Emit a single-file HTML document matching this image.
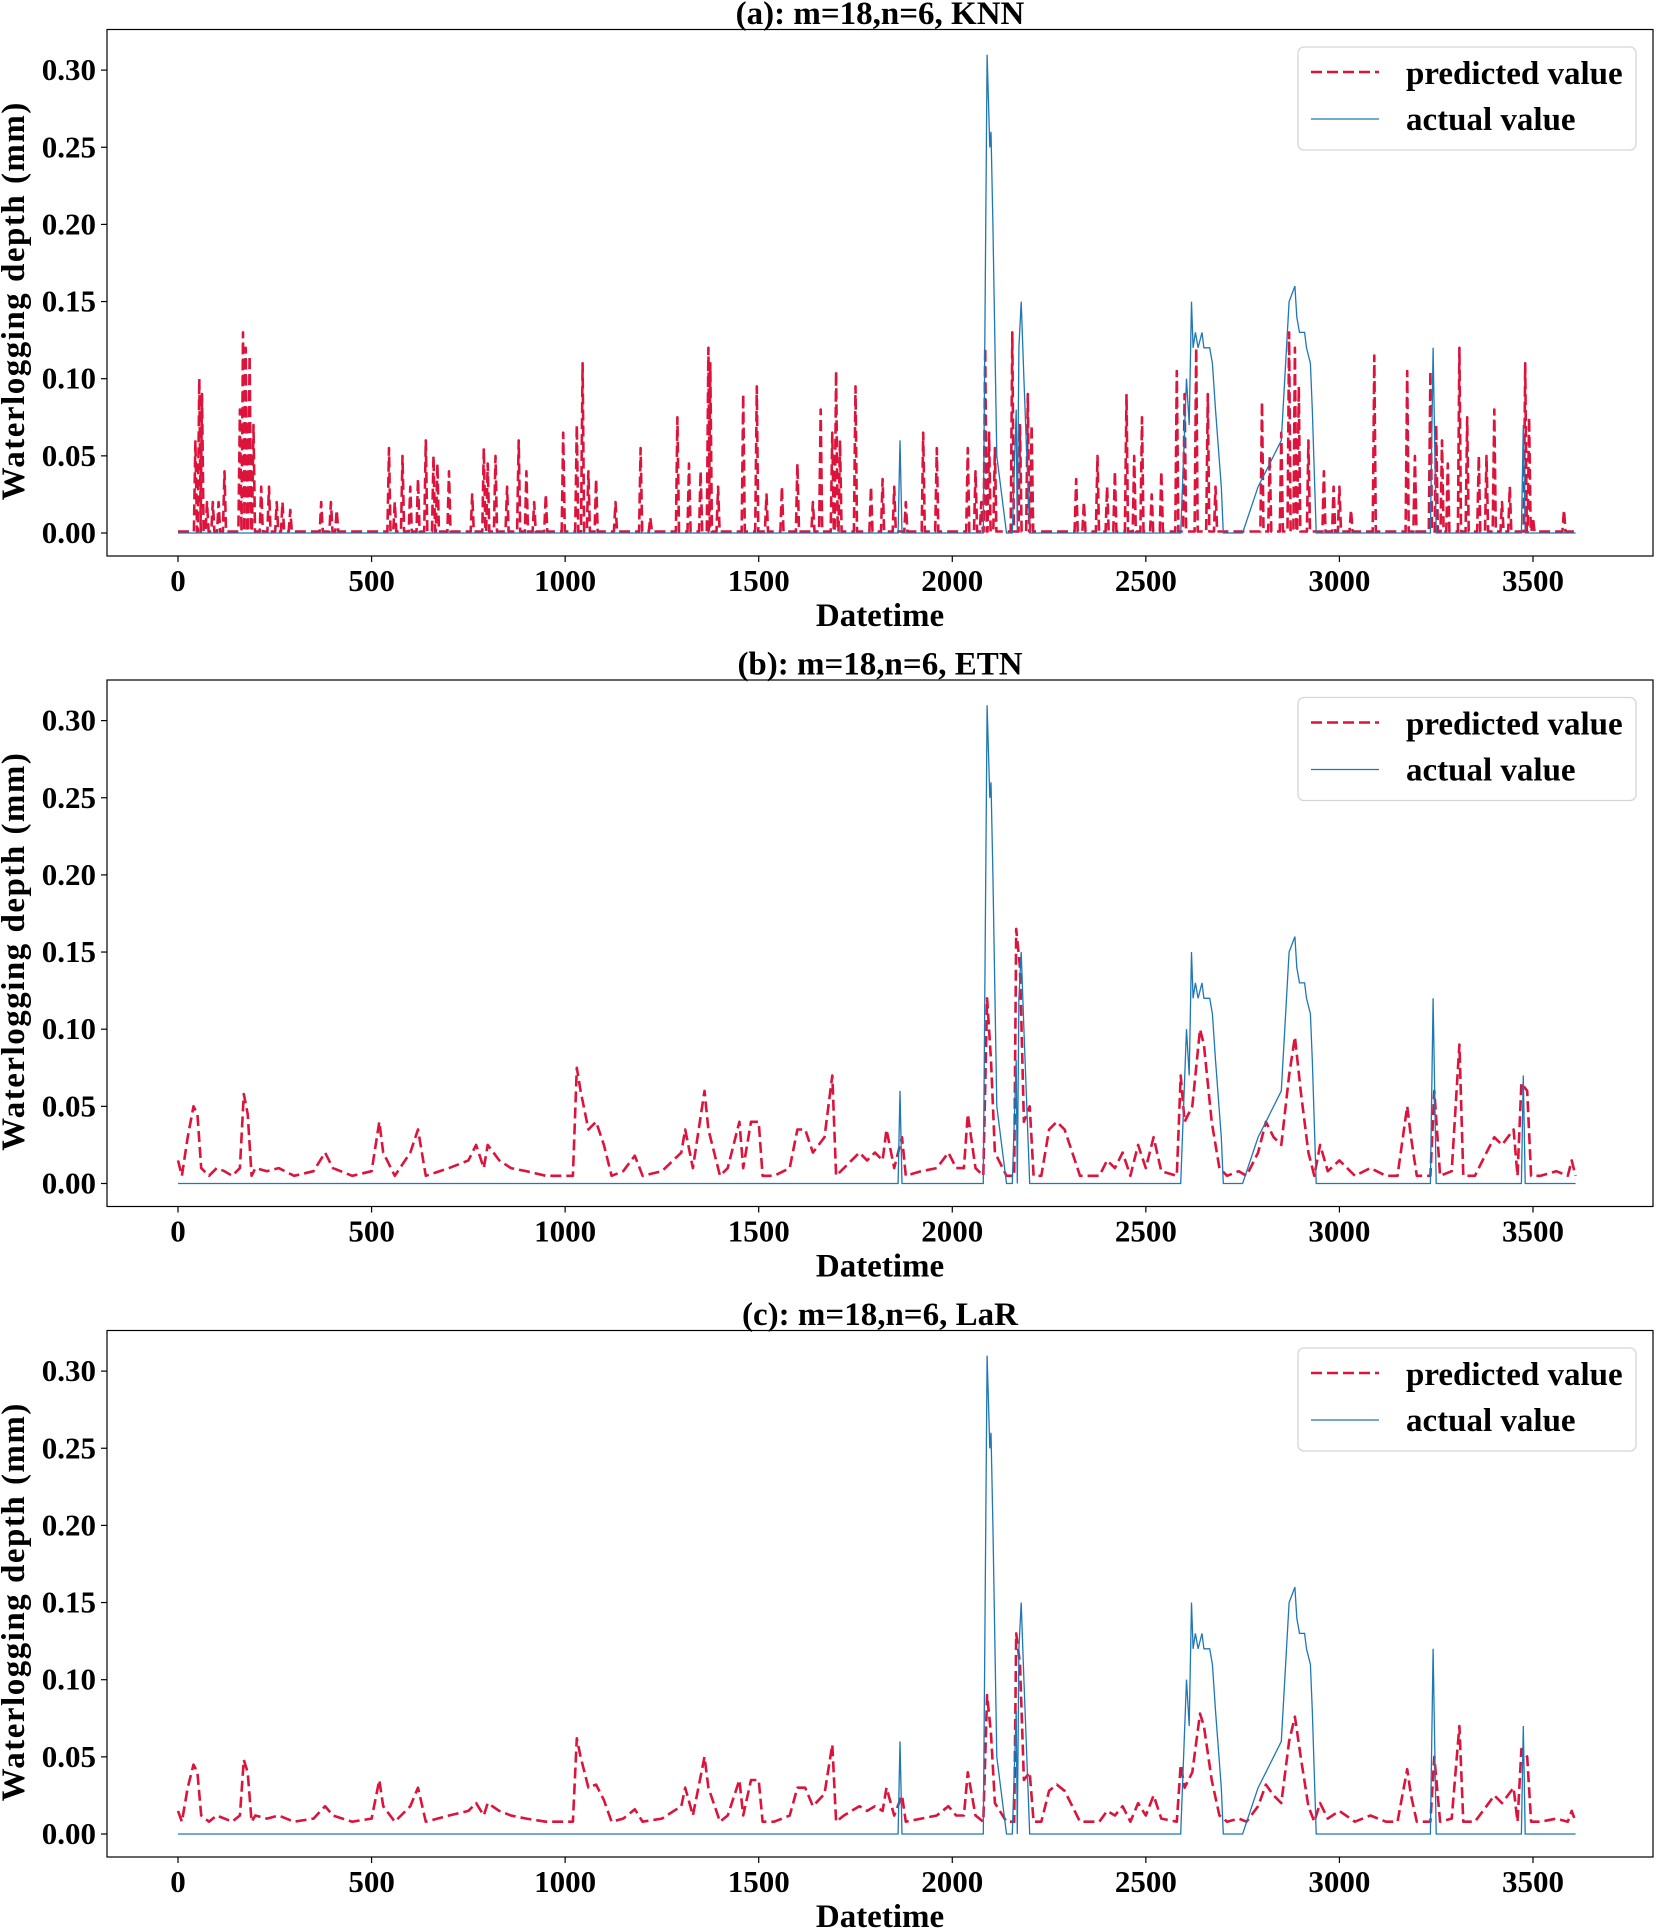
<!DOCTYPE html>
<html><head><meta charset="utf-8">
<style>
html,body{margin:0;padding:0;background:#fff;}
svg{display:block;font-family:"Liberation Serif",serif;font-weight:bold;}
</style></head>
<body>
<svg id="chart" width="1658" height="1929" viewBox="0 0 1658 1929" xmlns="http://www.w3.org/2000/svg"></svg>
<script>
// ---- data ----
const actualX = [0,1860,1865,1870,2080,2090,2097,2100,2105,2115,2140,2155,2165,2168,2172,2178,2185,2200,2590,2605,2612,2618,2622,2628,2635,2645,2650,2665,2672,2680,2695,2700,2750,2790,2810,2850,2870,2885,2890,2897,2910,2915,2925,2930,2940,3235,3242,3250,3470,3475,3480,3610];
const actualY = [0,0,0.06,0,0,0.31,0.25,0.26,0.20,0.05,0,0,0.08,0,0.12,0.15,0.10,0,0,0.10,0.07,0.15,0.12,0.13,0.12,0.13,0.12,0.12,0.11,0.08,0.03,0,0,0.03,0.04,0.06,0.15,0.16,0.14,0.13,0.13,0.12,0.11,0.08,0,0,0.12,0,0,0.07,0,0];

const knnSpikeX = [45,55,62,75,90,105,120,160,168,175,185,195,215,235,255,270,290,370,395,410,545,560,580,600,620,640,660,670,700,760,790,800,820,850,880,900,920,950,995,1030,1045,1060,1080,1130,1195,1220,1290,1320,1350,1370,1375,1395,1460,1495,1520,1560,1600,1640,1660,1690,1700,1710,1750,1790,1820,1850,1880,1925,1960,2040,2060,2075,2085,2095,2110,2155,2175,2195,2205,2320,2340,2375,2400,2420,2450,2470,2490,2515,2540,2580,2600,2630,2660,2680,2800,2820,2850,2870,2885,2895,2920,2960,2985,3000,3030,3090,3175,3195,3235,3250,3265,3280,3310,3330,3360,3380,3400,3420,3440,3480,3490,3500,3580];
const knnSpikeY = [0.06,0.10,0.09,0.02,0.02,0.02,0.04,0.08,0.13,0.12,0.115,0.07,0.03,0.03,0.02,0.02,0.015,0.02,0.02,0.015,0.055,0.02,0.05,0.03,0.035,0.06,0.05,0.045,0.04,0.025,0.055,0.045,0.05,0.03,0.06,0.04,0.02,0.025,0.065,0.07,0.11,0.04,0.035,0.02,0.055,0.01,0.075,0.045,0.04,0.12,0.11,0.03,0.09,0.095,0.025,0.03,0.045,0.02,0.08,0.065,0.105,0.06,0.095,0.03,0.035,0.03,0.02,0.065,0.055,0.055,0.04,0.02,0.12,0.065,0.055,0.13,0.07,0.09,0.07,0.035,0.02,0.05,0.03,0.04,0.09,0.05,0.075,0.025,0.04,0.105,0.09,0.12,0.09,0.03,0.085,0.05,0.065,0.13,0.12,0.095,0.06,0.04,0.03,0.03,0.015,0.115,0.105,0.05,0.105,0.07,0.06,0.045,0.12,0.075,0.05,0.05,0.08,0.02,0.03,0.11,0.075,0.01,0.015];

const predX = [0,10,25,40,50,60,80,100,120,140,160,170,180,190,200,230,260,300,350,380,400,450,500,520,530,560,600,620,640,700,750,770,790,800,830,860,900,950,1000,1020,1030,1040,1060,1080,1100,1120,1150,1180,1200,1250,1300,1310,1330,1360,1370,1400,1420,1450,1460,1480,1500,1510,1540,1580,1600,1620,1640,1670,1690,1700,1720,1760,1780,1800,1820,1830,1850,1870,1880,1920,1960,1990,2010,2030,2040,2060,2080,2090,2100,2110,2140,2160,2165,2175,2185,2200,2210,2230,2250,2270,2290,2310,2330,2380,2400,2420,2440,2460,2480,2500,2520,2540,2580,2590,2600,2620,2640,2650,2670,2690,2710,2740,2760,2790,2810,2830,2850,2870,2885,2900,2920,2935,2950,2970,3000,3040,3080,3120,3150,3175,3185,3200,3235,3245,3260,3290,3310,3320,3350,3380,3400,3420,3450,3460,3470,3485,3495,3520,3560,3590,3600,3610];
const etnY = [0.015,0.005,0.03,0.05,0.045,0.01,0.005,0.01,0.008,0.005,0.01,0.058,0.045,0.005,0.01,0.008,0.01,0.005,0.008,0.02,0.01,0.005,0.008,0.04,0.02,0.005,0.02,0.035,0.005,0.01,0.015,0.025,0.01,0.025,0.015,0.01,0.008,0.005,0.005,0.005,0.075,0.06,0.035,0.04,0.025,0.005,0.008,0.018,0.005,0.008,0.02,0.035,0.01,0.06,0.035,0.005,0.01,0.04,0.01,0.04,0.04,0.005,0.005,0.01,0.035,0.035,0.02,0.03,0.07,0.005,0.01,0.02,0.015,0.02,0.015,0.035,0.01,0.03,0.005,0.008,0.01,0.02,0.01,0.01,0.045,0.01,0.005,0.12,0.08,0.02,0.005,0.005,0.165,0.14,0.04,0.05,0.005,0.005,0.035,0.04,0.035,0.02,0.005,0.005,0.015,0.01,0.02,0.005,0.025,0.01,0.03,0.008,0.005,0.07,0.04,0.05,0.1,0.09,0.04,0.01,0.005,0.008,0.005,0.02,0.04,0.03,0.025,0.07,0.095,0.06,0.02,0.005,0.025,0.008,0.015,0.005,0.01,0.005,0.005,0.05,0.03,0.005,0.005,0.06,0.005,0.008,0.09,0.005,0.005,0.02,0.03,0.025,0.035,0.005,0.065,0.06,0.005,0.005,0.008,0.005,0.015,0.005];
const larY = [0.015,0.008,0.03,0.045,0.04,0.012,0.008,0.012,0.01,0.008,0.012,0.048,0.04,0.008,0.012,0.01,0.012,0.008,0.01,0.018,0.012,0.008,0.01,0.035,0.018,0.008,0.018,0.03,0.008,0.012,0.015,0.02,0.012,0.02,0.015,0.012,0.01,0.008,0.008,0.008,0.062,0.05,0.03,0.032,0.022,0.008,0.01,0.016,0.008,0.01,0.018,0.03,0.012,0.05,0.03,0.008,0.012,0.035,0.012,0.035,0.035,0.008,0.008,0.012,0.03,0.03,0.018,0.026,0.058,0.008,0.012,0.018,0.015,0.018,0.015,0.03,0.012,0.025,0.008,0.01,0.012,0.018,0.012,0.012,0.04,0.012,0.008,0.09,0.065,0.02,0.008,0.008,0.13,0.11,0.035,0.04,0.008,0.008,0.028,0.032,0.028,0.018,0.008,0.008,0.015,0.012,0.018,0.008,0.02,0.012,0.025,0.01,0.008,0.045,0.03,0.04,0.078,0.07,0.035,0.012,0.008,0.01,0.008,0.018,0.032,0.025,0.02,0.06,0.076,0.05,0.018,0.008,0.02,0.01,0.015,0.008,0.012,0.008,0.008,0.042,0.025,0.008,0.008,0.05,0.008,0.01,0.07,0.008,0.008,0.018,0.025,0.02,0.03,0.008,0.055,0.05,0.008,0.008,0.01,0.008,0.015,0.008];

const panelTitles = ["(a): m=18,n=6, KNN","(b): m=18,n=6, ETN","(c): m=18,n=6, LaR"];
const xTicks = [0,500,1000,1500,2000,2500,3000,3500];
const yTicks = [0,0.05,0.10,0.15,0.20,0.25,0.30];

// ---- drawing ----
const NS="http://www.w3.org/2000/svg";
const svg=document.getElementById('chart');
function mk(tag,attrs,parent){const e=document.createElementNS(NS,tag);for(const k in attrs)e.setAttribute(k,attrs[k]);(parent||svg).appendChild(e);return e;}
const L=107,R=1653,PH=650.5;
const xs=v=>178+v*0.38714;
function drawPanel(p){
  const o=p*PH, top=29.5+o, bot=556+o;
  const ys=v=>533+o-v*1543;
  const g=mk('g',{});
  
  
  const t=mk('text',{x:(L+R)/2,y:24+o,'text-anchor':'middle','font-size':33},g);
  t.textContent=panelTitles[p];
  
  
  const box=mk('rect',{x:L,y:top,width:R-L,height:bot-top,fill:'none',stroke:'#000','stroke-width':1.2},g);
  
  
  xTicks.forEach(v=>{
    mk('line',{x1:xs(v),x2:xs(v),y1:bot,y2:bot+6,stroke:'#000','stroke-width':1.2},g);
    const tx=mk('text',{x:xs(v),y:bot+35,'text-anchor':'middle','font-size':31},g);
    tx.textContent=String(v);
    
    
  });
  yTicks.forEach(v=>{
    mk('line',{x1:L-6,x2:L,y1:ys(v),y2:ys(v),stroke:'#000','stroke-width':1.2},g);
    const ty=mk('text',{x:L-11,y:ys(v)+10,'text-anchor':'end','font-size':31},g);
    ty.textContent=v.toFixed(2);
    
    
  });
  const xl=mk('text',{x:880,y:626+o,'text-anchor':'middle','font-size':33},g);
  xl.textContent='Datetime';
  
  
  const yl=mk('text',{x:0,y:0,'text-anchor':'middle','font-size':33,'letter-spacing':1.5,transform:`translate(24,${(top+bot)/2+8}) rotate(-90)`},g);
  yl.textContent='Waterlogging depth (mm)';
  
  
  // predicted
  let pts=[];
  if(p===0){
    pts.push([xs(0),ys(0.001)]);
    knnSpikeX.forEach((x,i)=>{pts.push([xs(x-4),ys(0.001)],[xs(x),ys(knnSpikeY[i])],[xs(x+4),ys(0.001)]);});
    pts.push([xs(3610),ys(0.001)]);
  } else {
    const arr=p===1?etnY:larY;
    predX.forEach((x,i)=>pts.push([xs(x),ys(arr[i])]));
  }
  const pl=mk('polyline',{points:pts.map(q=>q[0].toFixed(1)+','+q[1].toFixed(1)).join(' '),fill:'none',stroke:'#dc143c','stroke-width':2.6,'stroke-dasharray':'11,5','stroke-linejoin':'round'},g);
  
  
  const al=mk('polyline',{points:actualX.map((x,i)=>xs(x).toFixed(1)+','+ys(actualY[i]).toFixed(1)).join(' '),fill:'none',stroke:'#1f77b4','stroke-width':1.3},g);
  
  
  // legend
  const lg=mk('g',{},g);
  
  
  mk('rect',{x:1298,y:47+o,width:338,height:103,rx:6,fill:'#fff','fill-opacity':0.8,stroke:'#d6d6d6','stroke-width':1.3},lg);
  mk('line',{x1:1311,x2:1379,y1:72+o,y2:72+o,stroke:'#dc143c','stroke-width':2.6,'stroke-dasharray':'11,5'},lg);
  mk('line',{x1:1311,x2:1379,y1:119+o,y2:119+o,stroke:'#1f77b4','stroke-width':1.3},lg);
  const t1=mk('text',{x:1406,y:84+o,'font-size':33},lg);t1.textContent='predicted value';
  
  
  const t2=mk('text',{x:1406,y:130+o,'font-size':33},lg);t2.textContent='actual value';
  
  
}
[0,1,2].forEach(drawPanel);
</script>
</body></html>
